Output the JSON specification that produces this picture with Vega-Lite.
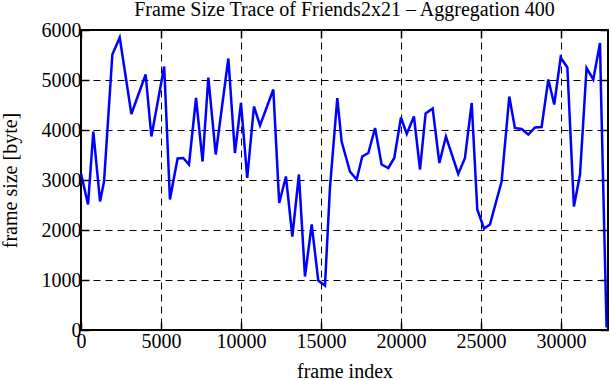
{
  "$schema": "https://vega.github.io/schema/vega-lite/v6.json",
  "width": 527,
  "height": 300,
  "autosize": {"type": "none"},
  "padding": {"left": 81, "top": 30, "right": 3, "bottom": 50},
  "background": "white",
  "config": {
    "font": "Liberation Serif",
    "view": {"stroke": "black", "strokeWidth": 2},
    "axis": {
      "domain": false,
      "labelFont": "Liberation Serif",
      "labelFontSize": 20,
      "labelColor": "black",
      "labelFlush": false,
      "labelOverlap": false,
      "format": "d",
      "titleFont": "Liberation Serif",
      "titleFontSize": 20,
      "titleFontWeight": "normal",
      "titleColor": "black",
      "tickColor": "black",
      "tickWidth": 1.5,
      "tickSize": -8,
      "gridColor": "black",
      "gridOpacity": 1,
      "gridWidth": 1,
      "gridDash": [7, 5]
    }
  },
  "title": {
    "text": "Frame Size Trace of Friends2x21 – Aggregation 400",
    "font": "Liberation Serif",
    "fontSize": 20,
    "fontWeight": "normal",
    "color": "black",
    "anchor": "middle",
    "frame": "group",
    "baseline": "bottom",
    "offset": 0,
    "dy": 20
  },
  "data": {
    "values": [
      {"frame": 0, "size": 3130},
      {"frame": 440, "size": 2510},
      {"frame": 770, "size": 3970},
      {"frame": 1190, "size": 2570},
      {"frame": 1440, "size": 2970},
      {"frame": 1960, "size": 5510},
      {"frame": 2420, "size": 5850},
      {"frame": 3150, "size": 4320},
      {"frame": 4040, "size": 5110},
      {"frame": 4400, "size": 3870},
      {"frame": 5200, "size": 5270},
      {"frame": 5560, "size": 2610},
      {"frame": 5790, "size": 3010},
      {"frame": 6040, "size": 3430},
      {"frame": 6390, "size": 3440},
      {"frame": 6750, "size": 3310},
      {"frame": 7190, "size": 4640},
      {"frame": 7600, "size": 3370},
      {"frame": 7960, "size": 5050},
      {"frame": 8420, "size": 3510},
      {"frame": 9210, "size": 5430},
      {"frame": 9620, "size": 3540},
      {"frame": 10000, "size": 4540},
      {"frame": 10390, "size": 3040},
      {"frame": 10810, "size": 4470},
      {"frame": 11190, "size": 4090},
      {"frame": 12020, "size": 4810},
      {"frame": 12390, "size": 2540},
      {"frame": 12810, "size": 3070},
      {"frame": 13210, "size": 1870},
      {"frame": 13620, "size": 3110},
      {"frame": 14000, "size": 1070},
      {"frame": 14420, "size": 2110},
      {"frame": 14830, "size": 990},
      {"frame": 15250, "size": 890},
      {"frame": 15560, "size": 2840},
      {"frame": 16020, "size": 4640},
      {"frame": 16290, "size": 3770},
      {"frame": 16810, "size": 3170},
      {"frame": 17230, "size": 3010},
      {"frame": 17580, "size": 3470},
      {"frame": 17960, "size": 3540},
      {"frame": 18380, "size": 4040},
      {"frame": 18790, "size": 3310},
      {"frame": 19210, "size": 3240},
      {"frame": 19580, "size": 3440},
      {"frame": 20000, "size": 4250},
      {"frame": 20360, "size": 3920},
      {"frame": 20810, "size": 4270},
      {"frame": 21190, "size": 3210},
      {"frame": 21540, "size": 4330},
      {"frame": 21980, "size": 4430},
      {"frame": 22400, "size": 3340},
      {"frame": 22810, "size": 3870},
      {"frame": 23580, "size": 3120},
      {"frame": 24000, "size": 3440},
      {"frame": 24420, "size": 4540},
      {"frame": 24770, "size": 2410},
      {"frame": 25190, "size": 2030},
      {"frame": 25560, "size": 2110},
      {"frame": 26290, "size": 2970},
      {"frame": 26770, "size": 4670},
      {"frame": 27120, "size": 4040},
      {"frame": 27540, "size": 4020},
      {"frame": 27960, "size": 3910},
      {"frame": 28380, "size": 4050},
      {"frame": 28790, "size": 4060},
      {"frame": 29210, "size": 5010},
      {"frame": 29580, "size": 4510},
      {"frame": 29980, "size": 5450},
      {"frame": 30400, "size": 5250},
      {"frame": 30810, "size": 2470},
      {"frame": 31190, "size": 3110},
      {"frame": 31600, "size": 5240},
      {"frame": 32020, "size": 5010},
      {"frame": 32440, "size": 5740},
      {"frame": 32500, "size": 4800},
      {"frame": 32850, "size": 50}
    ]
  },
  "layer": [
    {
      "mark": {"type": "line", "opacity": 0},
      "encoding": {
        "x": {
          "field": "frame", "type": "quantitative",
          "scale": {"domain": [0, 32940], "nice": false, "zero": false},
          "axis": {"orient": "top", "labels": false, "grid": false, "title": null, "values": [0, 5000, 10000, 15000, 20000, 25000, 30000]}
        },
        "y": {
          "field": "size", "type": "quantitative",
          "scale": {"domain": [0, 6000], "nice": false},
          "axis": {"orient": "right", "labels": false, "grid": false, "title": null, "values": [0, 1000, 2000, 3000, 4000, 5000, 6000]}
        }
      }
    },
    {
      "mark": {"type": "line", "color": "#0000ff", "strokeWidth": 2.5},
      "encoding": {
        "x": {
          "field": "frame", "type": "quantitative",
          "scale": {"domain": [0, 32940], "nice": false, "zero": false},
          "axis": {"orient": "bottom", "title": "frame index", "grid": true, "values": [0, 5000, 10000, 15000, 20000, 25000, 30000], "labelPadding": 9, "titlePadding": 10}
        },
        "y": {
          "field": "size", "type": "quantitative",
          "scale": {"domain": [0, 6000], "nice": false},
          "axis": {"orient": "left", "title": "frame size [byte]", "grid": true, "values": [0, 1000, 2000, 3000, 4000, 5000, 6000], "labelPadding": 8, "titlePadding": 21}
        }
      }
    }
  ],
  "resolve": {"axis": {"x": "independent", "y": "independent"}}
}
